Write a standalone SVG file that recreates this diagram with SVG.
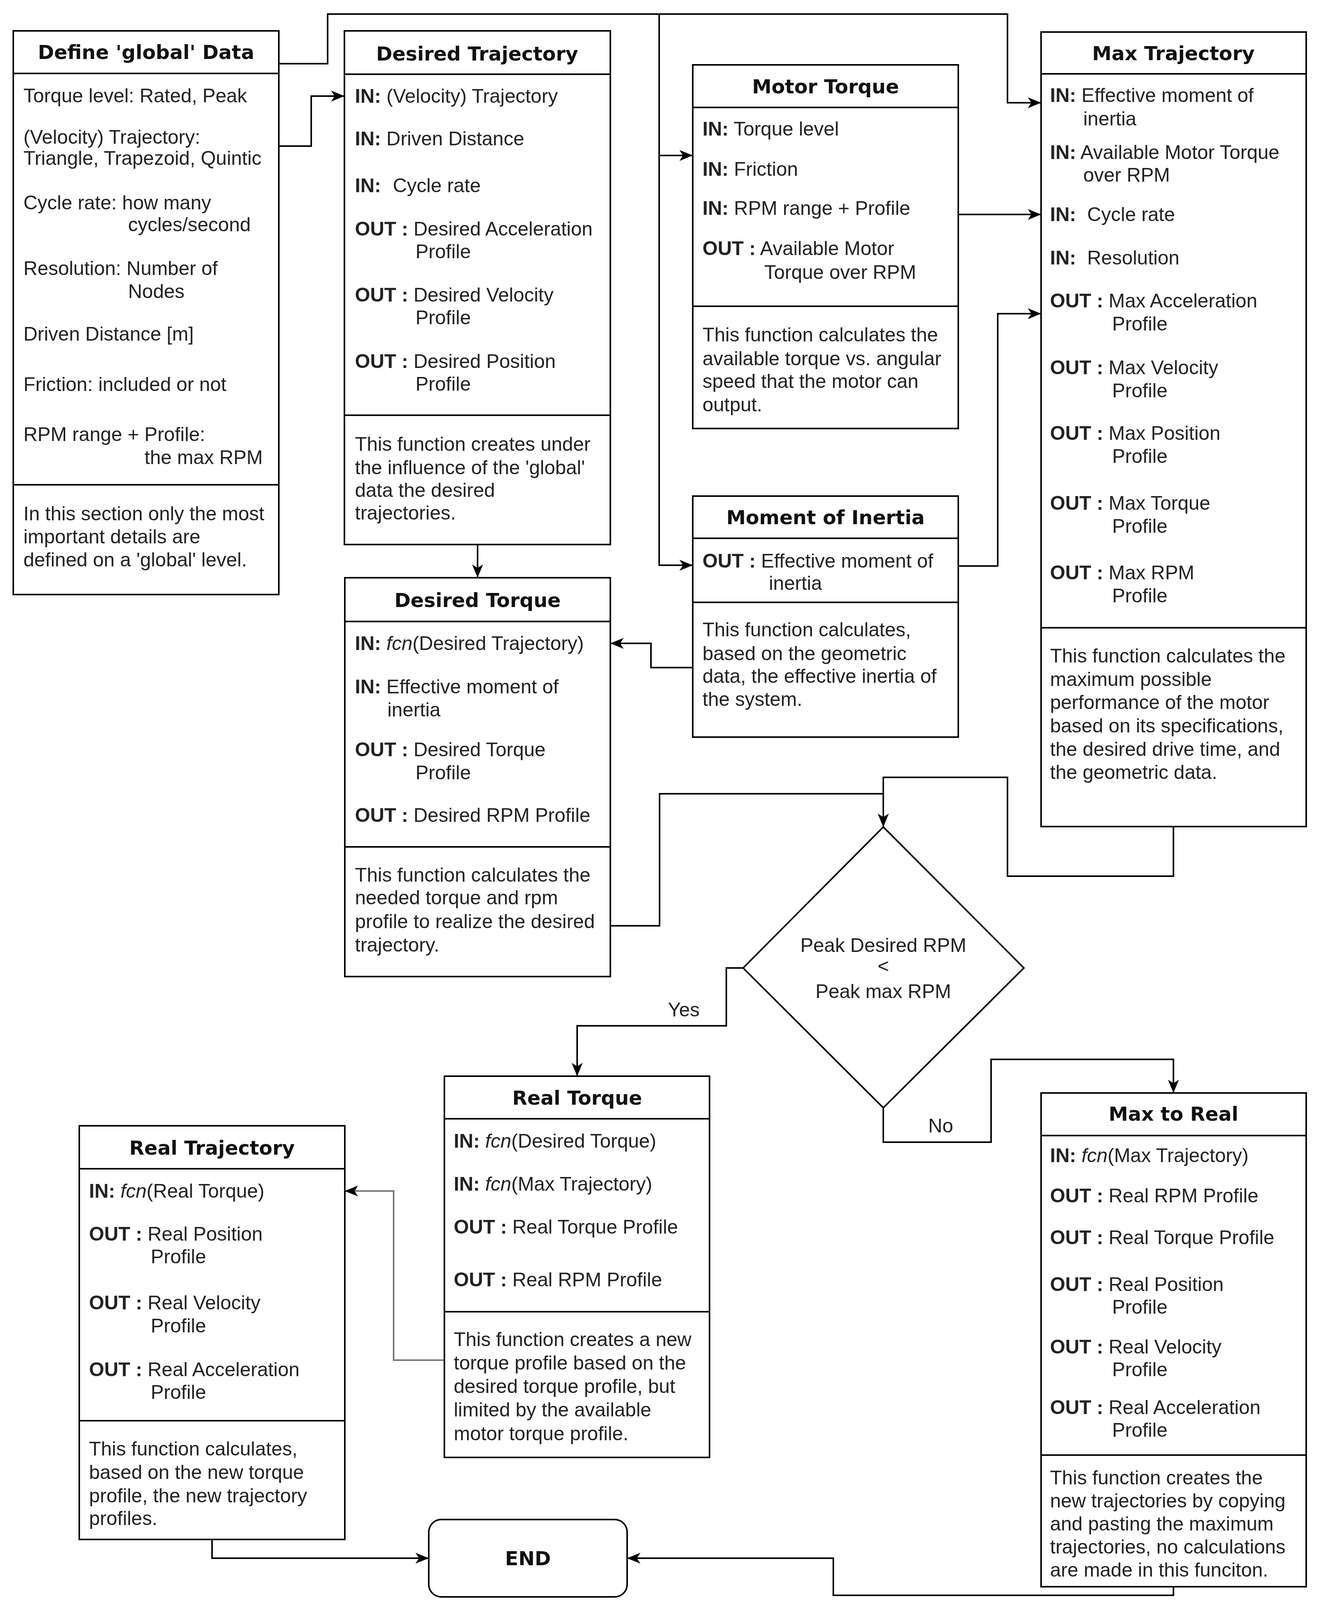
<svg xmlns="http://www.w3.org/2000/svg" width="3388" height="4408" viewBox="0 0 3388 4408">
<style>
.box{fill:#fff;stroke:#000;stroke-width:4}
.dv{stroke:#000;stroke-width:4;fill:none}
.t{font-family:'DejaVu Sans',Verdana,sans-serif;font-weight:bold;font-size:50px;text-anchor:middle;fill:#111}
.b{font-family:'Liberation Sans',Arial,sans-serif;font-size:50px;fill:#222}
.k{font-weight:bold}
.i{font-style:italic}
.c{fill:none;stroke:#000;stroke-width:4}
.g{fill:none;stroke:#777;stroke-width:4}
.m{text-anchor:middle}
</style>
<defs>
<marker id="a" markerUnits="userSpaceOnUse" viewBox="0 0 34 28" markerWidth="34" markerHeight="28" refX="34" refY="14" orient="auto">
<path d="M0,0 L34,14 L0,28 L9,14 Z" fill="#000"/>
</marker>
</defs>
<rect width="3388" height="4408" fill="#fff"/>

<g id="connectors">
<path class="c" d="M714,163 H839 V36 H2580 V263 H2666" marker-end="url(#a)"/>
<path class="c" d="M1688,36 V1447 H1774" marker-end="url(#a)"/>
<path class="c" d="M1688,398 H1774" marker-end="url(#a)"/>
<path class="c" d="M714,374 H797 V246 H882" marker-end="url(#a)"/>
<path class="c" d="M2454,549 H2666" marker-end="url(#a)"/>
<path class="c" d="M2454,1449 H2555 V803 H2666" marker-end="url(#a)"/>
<path class="c" d="M1223,1394 V1479" marker-end="url(#a)"/>
<path class="c" d="M1774,1709 H1667 V1647 H1563" marker-end="url(#a)"/>
<path class="c" d="M1563,2370 H1689 V2032 H2262 V2117" marker-end="url(#a)"/>
<path class="c" d="M3005,2116 V2243 H2580 V1990 H2262 V2117" marker-end="url(#a)"/>
<path class="c" d="M1903,2478 H1860 V2626 H1478 V2755" marker-end="url(#a)"/>
<path class="c" d="M2262,2836 V2924 H2538 V2712 H3005 V2798" marker-end="url(#a)"/>
<path class="g" d="M1138,3482 H1008 V3049 H883" marker-end="url(#a)"/>
<path class="c" d="M543,3941 V3989 H1098" marker-end="url(#a)"/>
<path class="c" d="M3005,4062 V4084 H2134 V3989 H1606" marker-end="url(#a)"/>
<text class="b m" x="1751" y="2602">Yes</text>
<text class="b m" x="2409" y="2899">No</text>
</g>

<g id="define-global">
<rect class="box" x="34" y="79" width="680" height="1443"/>
<path class="dv" d="M34,188 H714 M34,1241 H714"/>
<text class="t" x="374" y="151">Define 'global' Data</text>
<text class="b" x="60" y="262">Torque level: Rated, Peak</text>
<text class="b" x="60" y="368">(Velocity) Trajectory:</text>
<text class="b" x="60" y="422">Triangle, Trapezoid, Quintic</text>
<text class="b" x="60" y="536">Cycle rate: how many</text>
<text class="b" x="328" y="592">cycles/second</text>
<text class="b" x="60" y="704">Resolution: Number of</text>
<text class="b" x="328" y="763">Nodes</text>
<text class="b" x="60" y="872">Driven Distance [m]</text>
<text class="b" x="60" y="1001">Friction: included or not</text>
<text class="b" x="60" y="1129">RPM range + Profile:</text>
<text class="b" x="370" y="1188">the max RPM</text>
<text class="b" x="60" y="1332">In this section only the most</text>
<text class="b" x="60" y="1391">important details are</text>
<text class="b" x="60" y="1450">defined on a 'global' level.</text>
</g>

<g id="desired-trajectory">
<rect class="box" x="882" y="79" width="681" height="1315"/>
<path class="dv" d="M882,190 H1563 M882,1063 H1563"/>
<text class="t" x="1222" y="155">Desired Trajectory</text>
<text class="b" x="909" y="263"><tspan class="k">IN:</tspan> (Velocity) Trajectory</text>
<text class="b" x="909" y="372"><tspan class="k">IN:</tspan> Driven Distance</text>
<text class="b" x="909" y="492"><tspan class="k">IN:</tspan><tspan x="1006">Cycle rate</tspan></text>
<text class="b" x="909" y="603"><tspan class="k">OUT :</tspan> Desired Acceleration</text>
<text class="b" x="1064" y="661">Profile</text>
<text class="b" x="909" y="772"><tspan class="k">OUT :</tspan> Desired Velocity</text>
<text class="b" x="1064" y="830">Profile</text>
<text class="b" x="909" y="942"><tspan class="k">OUT :</tspan> Desired Position</text>
<text class="b" x="1064" y="1000">Profile</text>
<text class="b" x="909" y="1154">This function creates under</text>
<text class="b" x="909" y="1214">the influence of the 'global'</text>
<text class="b" x="909" y="1272">data the desired</text>
<text class="b" x="909" y="1330">trajectories.</text>
</g>

<g id="motor-torque">
<rect class="box" x="1774" y="166" width="680" height="931"/>
<path class="dv" d="M1774,275 H2454 M1774,784 H2454"/>
<text class="t" x="2114" y="239">Motor Torque</text>
<text class="b" x="1799" y="347"><tspan class="k">IN:</tspan> Torque level</text>
<text class="b" x="1799" y="450"><tspan class="k">IN:</tspan> Friction</text>
<text class="b" x="1799" y="550"><tspan class="k">IN:</tspan> RPM range + Profile</text>
<text class="b" x="1799" y="653"><tspan class="k">OUT :</tspan> Available Motor</text>
<text class="b" x="1957" y="714">Torque over RPM</text>
<text class="b" x="1799" y="874">This function calculates the</text>
<text class="b" x="1799" y="935">available torque vs. angular</text>
<text class="b" x="1799" y="993">speed that the motor can</text>
<text class="b" x="1799" y="1053">output.</text>
</g>

<g id="moment-of-inertia">
<rect class="box" x="1774" y="1270" width="680" height="617"/>
<path class="dv" d="M1774,1378 H2454 M1774,1542 H2454"/>
<text class="t" x="2114" y="1342">Moment of Inertia</text>
<text class="b" x="1799" y="1453"><tspan class="k">OUT :</tspan> Effective moment of</text>
<text class="b" x="1969" y="1510">inertia</text>
<text class="b" x="1799" y="1629">This function calculates,</text>
<text class="b" x="1799" y="1690">based on the geometric</text>
<text class="b" x="1799" y="1748">data, the effective inertia of</text>
<text class="b" x="1799" y="1807">the system.</text>
</g>

<g id="max-trajectory">
<rect class="box" x="2666" y="82" width="679" height="2034"/>
<path class="dv" d="M2666,189 H3345 M2666,1607 H3345"/>
<text class="t" x="3005" y="154">Max Trajectory</text>
<text class="b" x="2689" y="261"><tspan class="k">IN:</tspan> Effective moment of</text>
<text class="b" x="2774" y="321">inertia</text>
<text class="b" x="2689" y="407"><tspan class="k">IN:</tspan> Available Motor Torque</text>
<text class="b" x="2774" y="465">over RPM</text>
<text class="b" x="2689" y="566"><tspan class="k">IN:</tspan><tspan x="2784">Cycle rate</tspan></text>
<text class="b" x="2689" y="677"><tspan class="k">IN:</tspan><tspan x="2784">Resolution</tspan></text>
<text class="b" x="2689" y="787"><tspan class="k">OUT :</tspan> Max Acceleration</text>
<text class="b" x="2848" y="846">Profile</text>
<text class="b" x="2689" y="958"><tspan class="k">OUT :</tspan> Max Velocity</text>
<text class="b" x="2848" y="1017">Profile</text>
<text class="b" x="2689" y="1126"><tspan class="k">OUT :</tspan> Max Position</text>
<text class="b" x="2848" y="1185">Profile</text>
<text class="b" x="2689" y="1305"><tspan class="k">OUT :</tspan> Max Torque</text>
<text class="b" x="2848" y="1364">Profile</text>
<text class="b" x="2689" y="1483"><tspan class="k">OUT :</tspan> Max RPM</text>
<text class="b" x="2848" y="1542">Profile</text>
<text class="b" x="2689" y="1696">This function calculates the</text>
<text class="b" x="2689" y="1756">maximum possible</text>
<text class="b" x="2689" y="1815">performance of the motor</text>
<text class="b" x="2689" y="1875">based on its specifications,</text>
<text class="b" x="2689" y="1935">the desired drive time, and</text>
<text class="b" x="2689" y="1994">the geometric data.</text>
</g>

<g id="desired-torque">
<rect class="box" x="883" y="1479" width="680" height="1021"/>
<path class="dv" d="M883,1591 H1563 M883,2168 H1563"/>
<text class="t" x="1223" y="1554">Desired Torque</text>
<text class="b" x="909" y="1664"><tspan class="k">IN:</tspan> <tspan class="i">fcn</tspan>(Desired Trajectory)</text>
<text class="b" x="909" y="1775"><tspan class="k">IN:</tspan> Effective moment of</text>
<text class="b" x="992" y="1834">inertia</text>
<text class="b" x="909" y="1936"><tspan class="k">OUT :</tspan> Desired Torque</text>
<text class="b" x="1064" y="1995">Profile</text>
<text class="b" x="909" y="2104"><tspan class="k">OUT :</tspan> Desired RPM Profile</text>
<text class="b" x="909" y="2257">This function calculates the</text>
<text class="b" x="909" y="2315">needed torque and rpm</text>
<text class="b" x="909" y="2376">profile to realize the desired</text>
<text class="b" x="909" y="2436">trajectory.</text>
</g>

<g id="decision">
<polygon class="box" points="2262,2117 2622,2478 2262,2836 1903,2478"/>
<text class="b m" x="2262" y="2437">Peak Desired RPM</text>
<text class="b m" x="2262" y="2490" font-size="32">&lt;</text>
<text class="b m" x="2262" y="2555">Peak max RPM</text>
</g>

<g id="real-torque">
<rect class="box" x="1138" y="2755" width="679" height="976"/>
<path class="dv" d="M1138,2864 H1817 M1138,3358 H1817"/>
<text class="t" x="1478" y="2828">Real Torque</text>
<text class="b" x="1162" y="2938"><tspan class="k">IN:</tspan> <tspan class="i">fcn</tspan>(Desired Torque)</text>
<text class="b" x="1162" y="3048"><tspan class="k">IN:</tspan> <tspan class="i">fcn</tspan>(Max Trajectory)</text>
<text class="b" x="1162" y="3158"><tspan class="k">OUT :</tspan> Real Torque Profile</text>
<text class="b" x="1162" y="3293"><tspan class="k">OUT :</tspan> Real RPM Profile</text>
<text class="b" x="1162" y="3446">This function creates a new</text>
<text class="b" x="1162" y="3506">torque profile based on the</text>
<text class="b" x="1162" y="3566">desired torque profile, but</text>
<text class="b" x="1162" y="3626">limited by the available</text>
<text class="b" x="1162" y="3687">motor torque profile.</text>
</g>

<g id="real-trajectory">
<rect class="box" x="203" y="2882" width="680" height="1059"/>
<path class="dv" d="M203,2992 H883 M203,3637 H883"/>
<text class="t" x="543" y="2956">Real Trajectory</text>
<text class="b" x="228" y="3066"><tspan class="k">IN:</tspan> <tspan class="i">fcn</tspan>(Real Torque)</text>
<text class="b" x="228" y="3176"><tspan class="k">OUT :</tspan> Real Position</text>
<text class="b" x="386" y="3234">Profile</text>
<text class="b" x="228" y="3352"><tspan class="k">OUT :</tspan> Real Velocity</text>
<text class="b" x="386" y="3411">Profile</text>
<text class="b" x="228" y="3523"><tspan class="k">OUT :</tspan> Real Acceleration</text>
<text class="b" x="386" y="3581">Profile</text>
<text class="b" x="228" y="3726">This function calculates,</text>
<text class="b" x="228" y="3786">based on the new torque</text>
<text class="b" x="228" y="3846">profile, the new trajectory</text>
<text class="b" x="228" y="3904">profiles.</text>
</g>

<g id="max-to-real">
<rect class="box" x="2666" y="2798" width="679" height="1264"/>
<path class="dv" d="M2666,2907 H3345 M2666,3725 H3345"/>
<text class="t" x="3005" y="2869">Max to Real</text>
<text class="b" x="2689" y="2975"><tspan class="k">IN:</tspan> <tspan class="i">fcn</tspan>(Max Trajectory)</text>
<text class="b" x="2689" y="3078"><tspan class="k">OUT :</tspan> Real RPM Profile</text>
<text class="b" x="2689" y="3185"><tspan class="k">OUT :</tspan> Real Torque Profile</text>
<text class="b" x="2689" y="3305"><tspan class="k">OUT :</tspan> Real Position</text>
<text class="b" x="2848" y="3363">Profile</text>
<text class="b" x="2689" y="3465"><tspan class="k">OUT :</tspan> Real Velocity</text>
<text class="b" x="2848" y="3523">Profile</text>
<text class="b" x="2689" y="3620"><tspan class="k">OUT :</tspan> Real Acceleration</text>
<text class="b" x="2848" y="3678">Profile</text>
<text class="b" x="2689" y="3800">This function creates the</text>
<text class="b" x="2689" y="3859">new trajectories by copying</text>
<text class="b" x="2689" y="3918">and pasting the maximum</text>
<text class="b" x="2689" y="3977">trajectories, no calculations</text>
<text class="b" x="2689" y="4036">are made in this funciton.</text>
</g>

<g id="end">
<rect class="box" x="1098" y="3890" width="508" height="198" rx="32" ry="32"/>
<text class="t" x="1352" y="4007">END</text>
</g>
</svg>
